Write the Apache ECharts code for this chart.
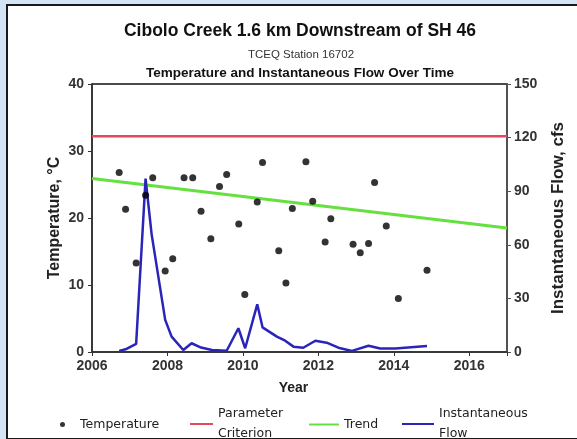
<!DOCTYPE html>
<html>
<head>
<meta charset="utf-8">
<script src="https://cdn.jsdelivr.net/npm/echarts@6/dist/echarts.min.js"></script>
<style>
html,body{margin:0;padding:0;background:#d3e5f5;}
#wrap{position:relative;width:577px;height:439px;overflow:hidden;}
#frame{position:absolute;left:6px;top:4px;width:575px;height:432px;background:#fff;border-left:2px solid #1a1a1a;border-top:2px solid #1a1a1a;border-bottom:2px solid #1a1a1a;}
#chart{position:absolute;left:0;top:0;width:577px;height:439px;}
</style>
</head>
<body>
<div id="wrap"><div id="frame"></div><div id="chart"></div></div>
<script>
// Temperature samples: decimal year and °C
const tempYears = [2006.72, 2006.89, 2007.17, 2007.42, 2007.61, 2007.94, 2008.14, 2008.44, 2008.67, 2008.89,
  2009.15, 2009.38, 2009.57, 2009.89, 2010.05, 2010.38, 2010.52, 2010.95, 2011.14, 2011.31,
  2011.67, 2011.85, 2012.18, 2012.33, 2012.92, 2013.11, 2013.33, 2013.49, 2013.80, 2014.12, 2014.88];
const tempValues = [26.8, 21.3, 13.3, 23.4, 26.0, 12.1, 13.9, 26.0, 26.0, 21.0,
  16.9, 24.7, 26.5, 19.1, 8.6, 22.4, 28.3, 15.1, 10.3, 21.4,
  28.4, 22.5, 16.4, 19.9, 16.1, 14.8, 16.2, 25.3, 18.8, 8.0, 12.2];
// Instantaneous flow (cfs)
const flowYears = [2006.72, 2006.89, 2007.17, 2007.42, 2007.58, 2007.94, 2008.11, 2008.42, 2008.64, 2008.89,
  2009.18, 2009.57, 2009.88, 2010.06, 2010.38, 2010.52, 2010.90, 2011.12, 2011.34, 2011.60,
  2011.92, 2012.22, 2012.53, 2012.89, 2013.33, 2013.64, 2014.04, 2014.88];
const flowValues = [0.6, 1.5, 4.5, 97, 66, 18, 8.6, 1.1, 4.9, 2.5,
  1.1, 0.7, 13.3, 2.1, 26.7, 13.8, 8.6, 6.3, 3.0, 2.4,
  6.3, 5.2, 2.4, 0.6, 3.5, 2.0, 2.0, 3.4];
// Parameter criterion and trend
const criterionYears = [2006, 2017];
const criterionValues = [32.2, 32.2];
const trendYears = [2006, 2017];
const trendValues = [25.9, 18.5];
// Axis settings
const xTicks = [2006, 2008, 2010, 2012, 2014, 2016];
const leftTicks = [0, 10, 20, 30, 40];
const rightTicks = [0, 30, 60, 90, 120, 150];

const zip = (a, b) => a.map((v, i) => [v, b[i]]);
const chart = echarts.init(document.getElementById('chart'), null, {renderer: 'canvas'});
const FONT = 'Liberation Sans, Arial, sans-serif';
const LFONT = 'DejaVu Sans, sans-serif';
const legendText1 = {fontFamily: LFONT, fontSize: 12.5, color: '#222', lineHeight: 13};
const legendText2 = {fontFamily: LFONT, fontSize: 12.5, color: '#222', lineHeight: 20};

chart.setOption({
  animation: false,
  backgroundColor: 'transparent',
  grid: {left: 92, right: 70, top: 84, bottom: 87, show: true, borderColor: '#111', borderWidth: 1.5, backgroundColor: 'transparent'},
  xAxis: {
    type: 'value', min: 2006, max: 2017, interval: 2,
    name: 'Year', nameLocation: 'middle', nameGap: 29,
    nameTextStyle: {fontFamily: FONT, fontSize: 14, fontWeight: 'bold', color: '#222', padding: [0, 12, 0, 0]},
    axisLine: {show: true, onZero: false, lineStyle: {color: '#333', width: 1.5}},
    axisTick: {show: true, inside: false, length: 4, lineStyle: {color: '#333'}},
    axisLabel: {fontFamily: FONT, fontSize: 14, fontWeight: 'bold', color: '#333', margin: 7,
      formatter: v => xTicks.includes(v) ? String(v) : ''},
    splitLine: {show: false}
  },
  yAxis: [{
    type: 'value', min: 0, max: 40, interval: 10, position: 'left',
    name: 'Temperature, °C', nameLocation: 'middle', nameGap: 29, nameRotate: 90, nameMoveOverlap: false,
    nameTextStyle: {fontFamily: FONT, fontSize: 16, fontWeight: 'bold', color: '#222'},
    axisLine: {show: true, lineStyle: {color: '#333', width: 1.5}},
    axisTick: {show: true, length: 4, lineStyle: {color: '#333'}},
    axisLabel: {fontFamily: FONT, fontSize: 14, fontWeight: 'bold', color: '#333', margin: 8,
      formatter: v => leftTicks.includes(v) ? String(v) : ''},
    splitLine: {show: false}
  }, {
    type: 'value', min: 0, max: 150, interval: 30, position: 'right',
    name: 'Instantaneous Flow, cfs', nameLocation: 'middle', nameGap: 43, nameRotate: 90,
    nameTextStyle: {fontFamily: FONT, fontSize: 17, fontWeight: 'bold', color: '#222'},
    axisLine: {show: true, lineStyle: {color: '#555', width: 1.5}},
    axisTick: {show: true, length: 4, lineStyle: {color: '#555'}},
    axisLabel: {fontFamily: FONT, fontSize: 14, fontWeight: 'bold', color: '#333', margin: 7,
      formatter: v => rightTicks.includes(v) ? String(v) : ''},
    splitLine: {show: false}
  }],
  graphic: [
    {type: 'text', style: {x: 300, y: 31, text: 'Cibolo Creek 1.6 km Downstream of SH 46', font: 'bold 17.5px ' + FONT, fill: '#111', align: 'center', verticalAlign: 'middle'}},
    {type: 'text', style: {x: 301, y: 55, text: 'TCEQ Station 16702', font: '11.5px ' + FONT, fill: '#333', align: 'center', verticalAlign: 'middle'}},
    {type: 'text', style: {x: 300, y: 73, text: 'Temperature and Instantaneous Flow Over Time', font: 'bold 13.5px ' + FONT, fill: '#111', align: 'center', verticalAlign: 'middle'}}
  ],
  legend: [
    {data: [{name: 'Temperature', icon: 'circle'}], left: 60, top: 418, padding: 0, itemWidth: 5, itemHeight: 5, textStyle: Object.assign({}, legendText1, {padding: [0, 0, 0, 10]})},
    {data: [{name: 'Parameter\nCriterion', icon: 'rect'}], left: 190, top: 404, padding: 0, itemWidth: 23, itemHeight: 2, textStyle: legendText2},
    {data: [{name: 'Trend', icon: 'rect'}], left: 309, top: 418, padding: 0, itemWidth: 30, itemHeight: 2, textStyle: legendText1},
    {data: [{name: 'Instantaneous\nFlow', icon: 'rect'}], left: 402, top: 404, padding: 0, itemWidth: 32, itemHeight: 2, textStyle: legendText2}
  ],
  series: [
    {name: 'Parameter\nCriterion', type: 'line', data: zip(criterionYears, criterionValues), symbol: 'none',
      lineStyle: {color: '#e04a5e', width: 2.5}, itemStyle: {color: '#e04a5e'}, z: 2},
    {name: 'Trend', type: 'line', data: zip(trendYears, trendValues), symbol: 'none',
      lineStyle: {color: '#66e040', width: 3}, itemStyle: {color: '#66e040'}, z: 3},
    {name: 'Instantaneous\nFlow', type: 'line', yAxisIndex: 1, data: zip(flowYears, flowValues), symbol: 'none',
      lineStyle: {color: '#2a24b8', width: 2.5}, itemStyle: {color: '#2a24b8'}, z: 4},
    {name: 'Temperature', type: 'scatter', data: zip(tempYears, tempValues), symbol: 'circle', symbolSize: 7,
      itemStyle: {color: '#000'}, z: 5}
  ]
});
</script>
</body>
</html>
